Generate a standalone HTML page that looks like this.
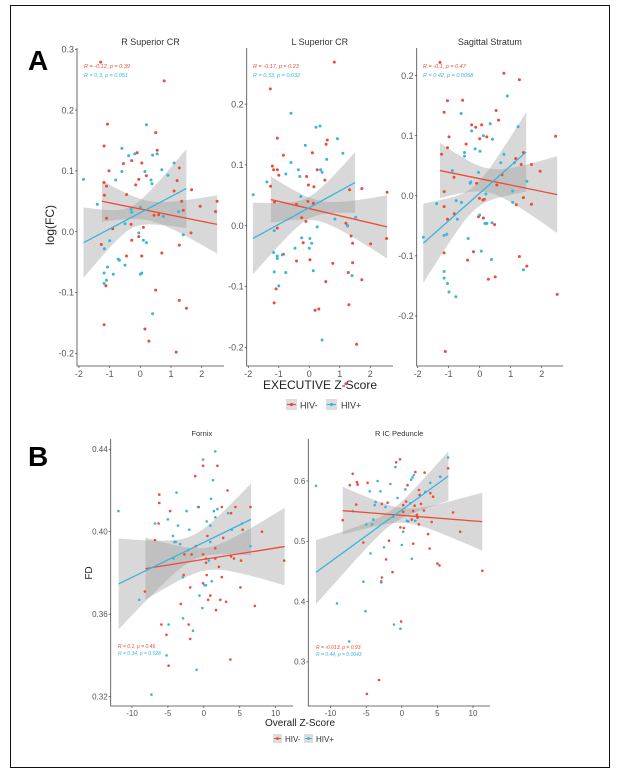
<!DOCTYPE html>
<html><head><meta charset="utf-8">
<style>
html,body{margin:0;padding:0;background:#fff;}
body{width:622px;height:775px;position:relative;overflow:hidden;font-family:"Liberation Sans",sans-serif;}
#frame{position:absolute;left:10px;top:5px;width:600px;height:763px;border:1.5px solid #111;box-sizing:border-box;}
svg{position:absolute;left:0;top:0;}
</style></head>
<body>
<div id="frame"></div>
<svg id="fig" width="622" height="775" xmlns="http://www.w3.org/2000/svg">
<text x="28" y="70" font-size="28" font-weight="bold" fill="#000">A</text>
<text x="28" y="466" font-size="28" font-weight="bold" fill="#000">B</text>
<text x="54" y="225" font-size="12" fill="#222" transform="rotate(-90 54 225)" text-anchor="middle">log(FC)</text>
<text x="320" y="389" font-size="12" fill="#222" text-anchor="middle">EXECUTIVE Z-Score</text>
<text x="92" y="573" font-size="10" fill="#222" transform="rotate(-90 92 573)" text-anchor="middle">FD</text>
<text x="300" y="726" font-size="10" fill="#222" text-anchor="middle">Overall Z-Score</text>
<g>
 <g><rect x="286" y="399" width="11" height="11" fill="#ddd"/><line x1="287" y1="404.5" x2="296" y2="404.5" stroke="#EE4B36" stroke-width="1.2"/><circle cx="291.5" cy="404.5" r="1.6" fill="#EE4B36"/><text x="300" y="408.5" font-size="9" fill="#333">HIV-</text></g>
 <g><rect x="326" y="399" width="11" height="11" fill="#ddd"/><line x1="327" y1="404.5" x2="336" y2="404.5" stroke="#3AB5DC" stroke-width="1.2"/><circle cx="331.5" cy="404.5" r="1.6" fill="#3AB5DC"/><text x="341" y="408.5" font-size="9" fill="#333">HIV+</text></g>
</g>
<g>
 <g><rect x="273" y="734" width="9" height="9" fill="#ddd"/><line x1="274" y1="738.5" x2="281" y2="738.5" stroke="#EE4B36" stroke-width="1"/><circle cx="277.5" cy="738.5" r="1.4" fill="#EE4B36"/><text x="285" y="742" font-size="8" fill="#333">HIV-</text></g>
 <g><rect x="304" y="734" width="9" height="9" fill="#ddd"/><line x1="305" y1="738.5" x2="312" y2="738.5" stroke="#3AB5DC" stroke-width="1"/><circle cx="308.5" cy="738.5" r="1.4" fill="#3AB5DC"/><text x="316" y="742" font-size="8" fill="#333">HIV+</text></g>
</g>
</svg>
<script>
// ---------- data ----------
const p1Red=[[-1.29,0.279],[0.78,0.248],[-1.18,0.141],[-1.07,0.177],[-1.02,0.100],[-1.18,0.081],[-1.27,-0.021],[-1.12,-0.089],[-1.18,-0.153],[-1.1,0.075],[-1.17,0.060],[-1.1,0.022],[-0.55,0.112],[-0.45,0.061],[-0.28,0.117],[-0.1,0.13],[-0.15,0.077],[-0.05,0.086],[0.05,0.113],[0.2,0.092],[0.5,0.163],[0.55,0.134],[-0.28,-0.014],[-0.45,-0.04],[-0.05,-0.008],[0.05,-0.04],[0.1,0.007],[0.45,0.027],[0.6,0.028],[0.7,-0.035],[0.5,-0.096],[0.15,-0.16],[0.28,-0.18],[1.17,-0.198],[1.27,-0.113],[1.5,-0.126],[1.27,-0.022],[1.4,0.035],[1.35,0.05],[1.27,0.105],[1.2,0.084],[1.1,0.067],[1.67,0.069],[1.65,-0.002],[1.95,0.042],[2.5,0.05],[2.45,0.033],[-0.9,0.005],[-0.3,0.012]];
const p1Blue=[[-1.85,0.086],[-1.4,0.045],[-1.17,-0.028],[-1.18,-0.068],[-1.07,-0.058],[-1.1,-0.08],[-1.18,-0.085],[-1.0,-0.015],[-0.88,-0.07],[-0.72,-0.045],[-0.68,-0.047],[-0.5,-0.055],[-0.5,0.013],[-0.8,0.085],[-0.6,0.099],[-0.6,0.137],[-0.38,0.125],[-0.18,0.128],[0.2,0.176],[0.4,0.126],[0.55,0.128],[0.35,0.085],[0.38,0.079],[0.15,0.099],[-0.3,0.037],[-0.28,0.032],[0.0,0.040],[-0.05,-0.002],[0.1,-0.014],[0.2,-0.018],[0.0,-0.07],[0.05,-0.068],[0.4,-0.135],[0.7,0.102],[0.75,0.025],[0.9,0.093],[1.1,0.113],[1.25,0.033],[1.4,-0.005]];
const p2Red=[[-1.28,0.225],[-1.05,0.144],[-1.21,0.098],[-1.17,0.092],[-1.05,0.092],[-1.0,0.083],[-1.27,0.065],[-0.85,0.116],[-1.14,0.039],[-1.05,-0.004],[-1.09,-0.104],[-1.15,-0.127],[-0.85,-0.047],[-0.42,-0.058],[-0.42,0.035],[-0.25,0.013],[-0.11,0.007],[-0.09,0.081],[-0.03,0.067],[0.1,0.12],[0.15,0.064],[0.26,0.092],[0.02,-0.056],[-0.2,-0.028],[0.19,-0.139],[0.31,-0.137],[0.54,-0.092],[0.51,0.075],[0.55,0.134],[0.59,0.141],[-0.05,0.04],[0.13,0.037],[0.82,0.269],[0.77,-0.062],[1.32,0.059],[1.72,0.061],[1.2,0.004],[1.25,0.0],[1.37,-0.017],[1.42,-0.029],[1.42,-0.061],[1.28,-0.077],[1.3,-0.13],[1.55,-0.195],[1.72,-0.089],[1.2,-0.26],[2.01,-0.03],[2.53,-0.021],[2.55,0.055]];
const p2Blue=[[-1.84,0.051],[-1.39,0.072],[-1.15,-0.008],[-1.17,-0.044],[-1.05,-0.05],[-1.05,-0.054],[-1.15,-0.076],[-1.0,-0.099],[-0.89,-0.048],[-0.77,0.085],[-0.6,0.185],[-0.6,0.104],[-0.77,-0.077],[-0.47,-0.037],[-0.36,0.092],[-0.31,0.081],[-0.25,-0.02],[-0.13,0.132],[-0.28,0.048],[0.02,-0.021],[0.08,-0.029],[0,-0.037],[0.13,-0.074],[0.22,0.162],[0.35,0.164],[0.26,-0.002],[0.42,-0.188],[0.37,0.092],[0.42,0.088],[0.57,0.109],[0.92,0.143],[1.1,0.119],[1.26,0.0],[1.4,-0.082],[0.84,0.011],[1.52,0.014]];
const p3Red=[[-1.28,0.222],[0.78,0.204],[1.28,0.193],[-1.04,0.158],[-0.55,0.159],[-1.15,0.139],[-0.99,0.098],[0.53,0.142],[0.61,0.126],[-0.26,0.118],[-0.13,0.114],[0.06,0.118],[0.23,0.098],[0,0.095],[-0.44,0.086],[-1.23,0.069],[-1.04,0.08],[-1.15,0.007],[-1.15,-0.018],[-0.83,0.031],[-1.04,-0.039],[-0.82,-0.03],[-0.1,0.021],[0.55,0.018],[0.72,0.035],[-0.01,-0.004],[0.1,-0.007],[0.15,-0.006],[-0.04,-0.035],[0.12,-0.037],[0.18,-0.046],[0.48,-0.048],[-1.15,-0.095],[-0.2,-0.093],[-0.39,-0.107],[0.28,-0.139],[0.5,-0.135],[1.28,-0.101],[1.52,-0.117],[1.16,0.062],[1.34,0.052],[1.41,0.072],[1.18,-0.015],[1.41,-0.003],[1.67,0.052],[1.67,-0.014],[1.95,0.041],[2.45,0.099],[2.5,-0.164],[-1.11,-0.259]];
const p3Blue=[[-1.82,-0.069],[-1.39,-0.013],[-1.15,-0.066],[-1.06,-0.064],[-1.15,-0.126],[-1.15,-0.137],[-1.04,-0.146],[-0.99,-0.16],[-0.77,-0.168],[-0.88,0.042],[-0.76,-0.008],[-0.72,-0.039],[-0.59,-0.011],[-0.6,0.137],[-0.49,0.072],[-0.49,0.066],[-0.26,0.108],[-0.15,0.078],[0.01,0.074],[-0.31,0.021],[-0.29,0.023],[-0.04,0.039],[0,-0.032],[0.17,-0.046],[0.23,-0.046],[0.05,-0.092],[0.38,-0.106],[0.4,-0.045],[0.2,0.003],[0.12,0.1],[0.34,0.12],[0.41,0.094],[0.68,0.055],[0.78,0.069],[0.89,0.166],[1.06,0.008],[1.06,-0.011],[1.12,0.055],[1.24,0.115],[1.41,-0.123],[1.52,0.024],[-0.37,-0.071]];
const fxRed=[[-0.1,0.432],[-1.2,0.427],[1.9,0.432],[-6.2,0.418],[-6.2,0.414],[-6.3,0.404],[-4.7,0.41],[-0.7,0.412],[-0.8,0.412],[3.3,0.42],[2.5,0.412],[4.4,0.412],[6.5,0.412],[3.8,0.409],[5.4,0.401],[8.1,0.4],[0.5,0.398],[-6.8,0.396],[-1.1,0.393],[1.6,0.392],[2.7,0.397],[-1.7,0.389],[-2.7,0.389],[-0.1,0.389],[0.3,0.387],[0.3,0.385],[1.6,0.387],[3.8,0.388],[4.2,0.387],[5.2,0.386],[2.1,0.383],[11.2,0.386],[-2.8,0.379],[0.4,0.379],[2.5,0.378],[-8.2,0.371],[-0.1,0.375],[0.9,0.369],[0.6,0.367],[2.3,0.367],[3.1,0.366],[5.1,0.373],[7.1,0.364],[-3.2,0.365],[-1.9,0.373],[1.7,0.362],[-5.9,0.355],[-2.1,0.355],[-5.2,0.35],[-1.9,0.348],[-4.9,0.335],[3.7,0.338]];
const fxBlue=[[-11.9,0.41],[-0.1,0.435],[1.6,0.439],[1.3,0.425],[-3.8,0.419],[1.0,0.416],[-2.4,0.41],[-0.8,0.412],[1.4,0.41],[1.9,0.411],[1.6,0.407],[3.4,0.409],[-5.0,0.406],[-6.8,0.404],[-3.6,0.403],[-2.0,0.401],[0.4,0.405],[0.9,0.403],[3.9,0.401],[5.3,0.404],[-4.3,0.398],[-4.1,0.395],[-3.9,0.395],[-3.3,0.394],[-2.2,0.391],[0.9,0.395],[-4.2,0.387],[-2.9,0.378],[0.7,0.386],[6.5,0.393],[-9.0,0.367],[-0.6,0.369],[-0.2,0.363],[0.1,0.374],[0.3,0.374],[1.1,0.376],[-2.9,0.358],[-4.9,0.355],[-1.5,0.352],[-5.2,0.34],[-1.0,0.333],[-7.3,0.321]];
const icRed=[[-0.25,0.636],[-0.8,0.631],[-6.9,0.612],[-7.3,0.593],[-6.3,0.598],[-6.2,0.594],[-4.8,0.597],[3.2,0.614],[1.9,0.615],[0.8,0.593],[2.4,0.585],[4.4,0.574],[2.5,0.577],[6.5,0.621],[5.4,0.607],[4.0,0.58],[-8.3,0.535],[-6.4,0.561],[-2.8,0.562],[-2.0,0.564],[0.6,0.566],[1.8,0.559],[2.7,0.562],[0.2,0.549],[1.6,0.55],[3.1,0.551],[2.1,0.544],[2.2,0.539],[1.4,0.536],[2.4,0.528],[4.2,0.532],[7.2,0.548],[-0.2,0.523],[0.3,0.522],[8.2,0.516],[-5.4,0.498],[-1.8,0.501],[1.6,0.496],[3.7,0.512],[3.9,0.488],[-2.2,0.47],[-1.3,0.449],[5.0,0.463],[5.3,0.46],[11.3,0.451],[-2.8,0.44],[-2.9,0.432],[-0.1,0.367],[-3.2,0.27],[-4.9,0.247],[0.2,0.56]];
const icBlue=[[-12.05,0.592],[-3.4,0.6],[-4.5,0.583],[-3.0,0.583],[-1.6,0.595],[-0.9,0.623],[1.7,0.61],[1.5,0.606],[1.3,0.602],[4.0,0.597],[5.4,0.607],[6.5,0.639],[0.5,0.586],[-0.6,0.572],[3.3,0.582],[-6.9,0.55],[-3.7,0.565],[-3.8,0.56],[-4.0,0.536],[-4.2,0.528],[-5.0,0.528],[-2.3,0.557],[-1.2,0.541],[0.7,0.534],[0.9,0.533],[1.2,0.563],[1.9,0.534],[0.2,0.516],[0.0,0.494],[-2.5,0.49],[-4.4,0.48],[1.4,0.471],[-2.9,0.434],[-5.4,0.433],[-9.1,0.397],[-5.1,0.384],[-1.1,0.362],[-0.2,0.355],[-7.4,0.334]];
// fits: [xStart, xEnd, yStart, yEnd, halfWidthStart, halfWidthEnd, halfWidthMin]
const p1RedFit=[-1.25,2.5,0.050,0.012,0.034,0.048,0.016];
const p1BlueFit=[-1.85,1.5,-0.018,0.071,0.058,0.065,0.018];
const p2RedFit=[-1.26,2.55,0.043,-0.002,0.038,0.052,0.017];
const p2BlueFit=[-1.85,1.5,-0.021,0.071,0.059,0.05,0.018];
const p3RedFit=[-1.28,2.5,0.042,0.002,0.046,0.064,0.02];
const p3BlueFit=[-1.82,1.5,-0.079,0.073,0.066,0.066,0.02];
const fxRedFit=[-8.13,11.26,0.3821,0.3928,0.0151,0.0188,0.0055];
const fxBlueFit=[-11.86,6.57,0.3747,0.406,0.022,0.0174,0.006];
const icRedFit=[-8.3,11.3,0.5508,0.5326,0.0395,0.048,0.012];
const icBlueFit=[-12.05,6.54,0.4486,0.6083,0.053,0.041,0.012];
const p1XTicks=[-2,-1,0,1,2], p1YTicks=[-0.2,-0.1,0.0,0.1,0.2,0.3];
const p23YTicks=[-0.2,-0.1,0.0,0.1,0.2];
const bXTicks=[-10,-5,0,5,10];
const fxYTicks=[0.32,0.36,0.40,0.44];
const icYTicks=[0.3,0.4,0.5,0.6];
const p1Stats=["R = -0.12, p = 0.39","R = 0.3, p = 0.051"];
const p2Stats=["R = -0.17, p = 0.23","R = 0.33, p = 0.032"];
const p3Stats=["R = -0.1, p = 0.47","R = 0.42, p = 0.0058"];
const fxStats=["R = 0.1, p = 0.46","R = 0.34, p = 0.028"];
const icStats=["R = -0.013, p = 0.93","R = 0.44, p = 0.0043"];

const NS="http://www.w3.org/2000/svg";
const svg=document.getElementById('fig');
const RED="#EE4B36", BLUE="#3AB5DC";
function mk(tag,attrs,parent){const e=document.createElementNS(NS,tag);for(const k in attrs)e.setAttribute(k,attrs[k]);parent.appendChild(e);return e;}
function fmt(v,d){return v.toFixed(d);}

function panel(cfg){
  const g=mk('g',{},svg);
  
  
  const sx=x=>cfg.x0+cfg.xu*x, sy=y=>cfg.y0-cfg.yu*(y-cfg.yref);
  // title
  const t=mk('text',{x:(cfg.L+cfg.R)/2,y:cfg.titleY,'font-size':cfg.tfs,'text-anchor':'middle',fill:'#333'},g);
  t.textContent=cfg.title;
  
  
  // bands
  [cfg.redFit,cfg.blueFit].forEach((f,i)=>{
    const [xa,xb,ya,yb,wa,wb,wm]=f;
    const A=Math.sqrt(Math.max(wa*wa-wm*wm,1e-12)),B=Math.sqrt(Math.max(wb*wb-wm*wm,1e-12));
    const tt=(xb-xa)/(A+B), xm=xa+A*tt;
    const n=40, up=[], lo=[];
    for(let j=0;j<=n;j++){const x=xa+(xb-xa)*j/n;const yh=ya+(yb-ya)*(x-xa)/(xb-xa);
      const w=Math.sqrt(wm*wm+((x-xm)/tt)**2);up.push([sx(x),sy(yh+w)]);lo.push([sx(x),sy(yh-w)]);}
    const pts=up.concat(lo.reverse()).map(p=>p[0].toFixed(1)+','+p[1].toFixed(1)).join(' ');
    const b=mk('polygon',{points:pts,fill:'#999','fill-opacity':0.38},g);
    
    
  });
  // points
  [[cfg.red,RED,'point-hiv-neg'],[cfg.blue,BLUE,'point-hiv-pos']].forEach(([arr,col,nm])=>{
    arr.forEach(p=>{const c=mk('circle',{cx:sx(p[0]).toFixed(1),cy:sy(p[1]).toFixed(1),r:cfg.pr,fill:col},g);
      
      });
  });
  // lines
  [[cfg.redFit,RED,'fit-line-hiv-neg'],[cfg.blueFit,BLUE,'fit-line-hiv-pos']].forEach(([f,col,nm])=>{
    const l=mk('line',{x1:sx(f[0]),y1:sy(f[2]),x2:sx(f[1]),y2:sy(f[3]),stroke:col,'stroke-width':1.3},g);
    
    
  });
  // axes
  const ax=mk('path',{d:`M${cfg.L},${cfg.T}V${cfg.B}H${cfg.R}`,fill:'none',stroke:'#444','stroke-width':0.8},g);
  
  
  cfg.xt.forEach(v=>{const x=sx(v);mk('line',{x1:x,y1:cfg.B,x2:x,y2:cfg.B+2,stroke:'#444','stroke-width':0.7},g);
    const tx=mk('text',{x:x,y:cfg.B+2+cfg.fs,'font-size':cfg.fs,'text-anchor':'middle',fill:'#555'},g);tx.textContent=String(v);
    
    });
  cfg.yt.forEach(v=>{const y=sy(v);mk('line',{x1:cfg.L-2,y1:y,x2:cfg.L,y2:y,stroke:'#444','stroke-width':0.7},g);
    const ty=mk('text',{x:cfg.L-3,y:y+cfg.fs*0.35,'font-size':cfg.fs,'text-anchor':'end',fill:'#555'},g);ty.textContent=fmt(v,cfg.yd);
    
    });
  // stats
  cfg.stats.forEach((s,i)=>{const st=mk('text',{x:cfg.sx,y:cfg.sy+i*cfg.sdy,'font-size':cfg.sfs,fill:i?BLUE:RED,'font-style':'italic'},g);
    st.textContent=s;
    
    });
}
const A={fs:9,tfs:9,pr:1.5,yd:1,sfs:5.5,sdy:9,titleY:45,T:48,B:366,yref:0};
panel(Object.assign({},A,{name:'panel-r-superior-cr',title:'R Superior CR',L:77,R:224,x0:140.3,xu:30.7,y0:231.7,yu:608,xt:p1XTicks,yt:p1YTicks,red:p1Red,blue:p1Blue,redFit:p1RedFit,blueFit:p1BlueFit,stats:p1Stats,sx:84,sy:68}));
panel(Object.assign({},A,{name:'panel-l-superior-cr',title:'L Superior CR',L:246.7,R:393,x0:309.3,xu:30.5,y0:225.7,yu:608,xt:p1XTicks,yt:p23YTicks,red:p2Red,blue:p2Blue,redFit:p2RedFit,blueFit:p2BlueFit,stats:p2Stats,sx:253,sy:68}));
panel(Object.assign({},A,{name:'panel-sagittal-stratum',title:'Sagittal Stratum',L:416.7,R:563,x0:479.7,xu:31,y0:195.8,yu:601,xt:p1XTicks,yt:p23YTicks,red:p3Red,blue:p3Blue,redFit:p3RedFit,blueFit:p3BlueFit,stats:p3Stats,sx:423,sy:68}));
const Bc={fs:8,tfs:7.5,pr:1.3,sfs:5,sdy:7,titleY:436,T:439,B:706};
panel(Object.assign({},Bc,{name:'panel-fornix',title:'Fornix',L:110.7,R:293,x0:203.8,xu:7.18,y0:449.3,yu:2061,yref:0.44,yd:2,xt:bXTicks,yt:fxYTicks,red:fxRed,blue:fxBlue,redFit:fxRedFit,blueFit:fxBlueFit,stats:fxStats,sx:118,sy:648}));
panel(Object.assign({},Bc,{name:'panel-r-ic-peduncle',title:'R IC Peduncle',L:308.3,R:490,x0:401.8,xu:7.12,y0:481,yu:603,yref:0.6,yd:1,xt:bXTicks,yt:icYTicks,red:icRed,blue:icBlue,redFit:icRedFit,blueFit:icBlueFit,stats:icStats,sx:316,sy:649}));
</script>
</body></html>
